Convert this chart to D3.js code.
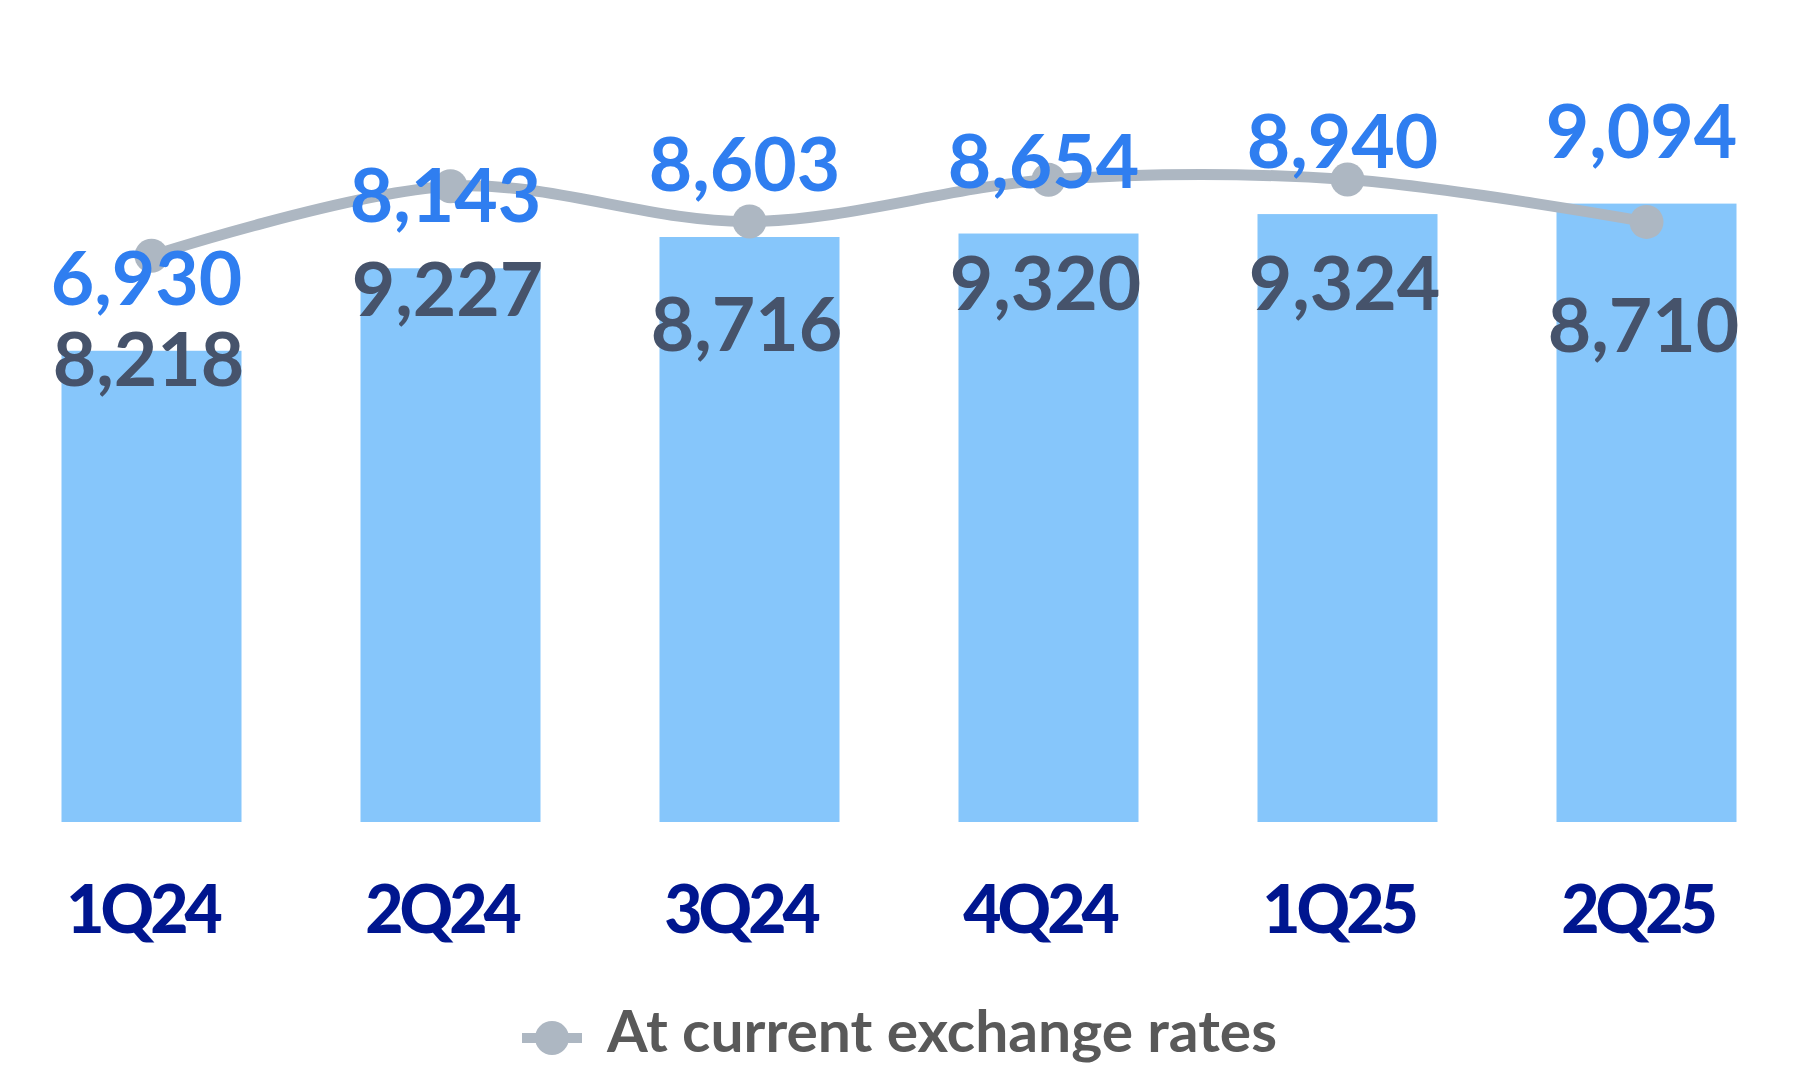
<!DOCTYPE html>
<html>
<head>
<meta charset="utf-8">
<script src="https://cdn.jsdelivr.net/npm/d3@7"></script>
<style>
  html, body { margin: 0; padding: 0; background: #ffffff; }
  svg { display: block; }
  text { font-family: Lato, "Noto Sans", sans-serif; }
</style>
</head>
<body>
<svg id="chart" width="1794" height="1092"></svg>
<script>
// ---- data ----
const categories = ["1Q24", "2Q24", "3Q24", "4Q24", "1Q25", "2Q25"];
const constantRates = [6930, 8143, 8603, 8654, 8940, 9094];   // bars
const currentRates = [8218, 9227, 8716, 9320, 9324, 8710];    // line
const legendLabel = "At current exchange rates";

const fmt = d3.format(",");

const svg = d3.select("#chart");
const baseY = 822;

const x = d3.scaleBand()
  .domain(categories)
  .range([31.6, 1766.4])
  .paddingInner(0.398)
  .paddingOuter(0.1);

const yBar = d3.scaleLinear().domain([0, 10000]).range([baseY, baseY - 680]);
const yLine = d3.scaleLinear().domain([0, 10000]).range([baseY, baseY - 689]);

const rows = categories.map((c, i) => ({ c, bar: constantRates[i], line: currentRates[i] }));
const cx = d => x(d.c) + x.bandwidth() / 2;

// bars
svg.append("g").selectAll("rect").data(rows).join("rect")
  .attr("x", d => x(d.c))
  .attr("y", d => yBar(d.bar))
  .attr("width", x.bandwidth())
  .attr("height", d => yBar(0) - yBar(d.bar))
  .attr("fill", "#86c6fb");

// dark labels (current rates) inside bars
svg.append("g").selectAll("text").data(rows).join("text")
  .attr("x", d => cx(d) - 3)
  .attr("y", d => yLine(d.line) + 130)
  .attr("text-anchor", "middle")
  .attr("font-size", 75)
  .attr("font-weight", 700)
  .attr("fill", "#46536b")
  .text(d => fmt(d.line));

// line
const lineGen = d3.line()
  .x(d => cx(d))
  .y(d => yLine(d.line))
  .curve(d3.curveCatmullRom.alpha(0.5));

svg.append("path")
  .datum(rows)
  .attr("d", lineGen)
  .attr("fill", "none")
  .attr("stroke", "#adb7c2")
  .attr("stroke-width", 11)
  .attr("stroke-linecap", "round");

svg.append("g").selectAll("circle").data(rows).join("circle")
  .attr("cx", d => cx(d))
  .attr("cy", d => yLine(d.line))
  .attr("r", 17)
  .attr("fill", "#adb7c2");

// blue labels (constant rates) above bars
svg.append("g").selectAll("text").data(rows).join("text")
  .attr("x", d => cx(d) - 5)
  .attr("y", d => yBar(d.bar) - 46)
  .attr("text-anchor", "middle")
  .attr("font-size", 75)
  .attr("font-weight", 700)
  .attr("fill", "#2f7ef0")
  .text(d => fmt(d.bar));

// category labels
const xAxis = d3.axisBottom(x).tickSize(0).tickPadding(0);
const gx = svg.append("g").attr("transform", `translate(0, ${baseY})`).call(xAxis);
gx.select(".domain").remove();
gx.selectAll("text")
  .attr("y", 111)
  .attr("dy", 0)
  .attr("dx", -9)
  .attr("font-size", 66)
  .attr("font-weight", 900)
  .attr("letter-spacing", -4)
  .attr("font-family", "Lato, sans-serif")
  .attr("fill", "#00168f");

// legend
const lg = svg.append("g");
lg.append("line")
  .attr("x1", 522).attr("x2", 582)
  .attr("y1", 1038).attr("y2", 1038)
  .attr("stroke", "#adb7c2").attr("stroke-width", 10);
lg.append("circle")
  .attr("cx", 552).attr("cy", 1038).attr("r", 17)
  .attr("fill", "#adb7c2");
lg.append("text")
  .attr("x", 607).attr("y", 1052)
  .attr("font-size", 57)
  .attr("font-weight", 700)
  .attr("fill", "#595959")
  .attr("textLength", 670)
  .attr("lengthAdjust", "spacingAndGlyphs")
  .text(legendLabel);
</script>
</body>
</html>
